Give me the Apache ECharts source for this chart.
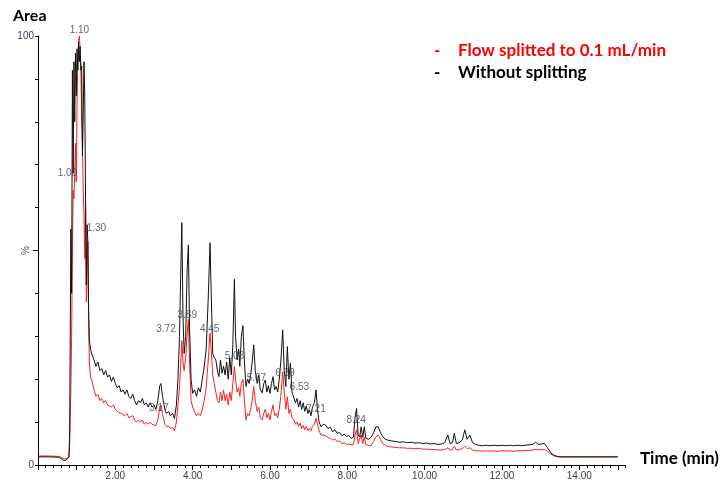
<!DOCTYPE html>
<html><head><meta charset="utf-8">
<script src="https://cdn.jsdelivr.net/npm/echarts@6/dist/echarts.min.js"></script>
<style>html,body{margin:0;padding:0;background:#fff}#c{width:724px;height:483px}</style>
</head><body><div id="c"></div>
<script>
// Retention time (min)
const timeMin = [
  0, 0.3, 0.55, 0.6, 0.65, 0.72, 0.76, 0.8,
  0.82, 0.85, 0.87, 0.89, 0.91, 0.93, 0.95, 0.97, 0.99, 1.01, 1.03, 1.05, 1.07, 1.09, 1.11, 1.13, 1.15, 1.17, 1.19, 1.21, 1.23, 1.25, 1.27, 1.29, 1.31, 1.33, 1.36,
  1.40, 1.45, 1.50, 1.55, 1.60, 1.65, 1.70, 1.75, 1.80, 1.85, 1.90, 1.95, 2.00, 2.05, 2.10, 2.15, 2.20, 2.25, 2.30, 2.35, 2.40, 2.45, 2.50, 2.55, 2.60, 2.65, 2.70, 2.75, 2.80, 2.85, 2.90, 2.95, 3.00, 3.05, 3.10,
  3.15, 3.18, 3.22, 3.28, 3.32, 3.38, 3.42, 3.48, 3.53, 3.58,
  3.62, 3.66, 3.70, 3.72, 3.75, 3.78, 3.82, 3.86, 3.89, 3.92, 3.96, 4.00, 4.05, 4.10, 4.15, 4.20, 4.25, 4.30, 4.35, 4.40, 4.45,
  4.48, 4.52, 4.56, 4.60, 4.64, 4.68, 4.72, 4.76, 4.80, 4.84, 4.88, 4.92, 4.96, 5.00, 5.04, 5.08, 5.11, 5.15, 5.19, 5.22, 5.26, 5.30,
  5.34, 5.38, 5.42, 5.46, 5.50, 5.54, 5.58, 5.62, 5.67, 5.71, 5.75, 5.80, 5.84, 5.88, 5.92, 5.96, 6.00, 6.04, 6.08, 6.12, 6.16, 6.20, 6.24, 6.28, 6.33,
  6.37, 6.41, 6.45, 6.49, 6.53, 6.57, 6.62, 6.66, 6.70, 6.74, 6.78, 6.82, 6.86, 6.90, 6.94, 6.98, 7.02, 7.06, 7.10, 7.15, 7.19, 7.23, 7.27, 7.32,
  7.38, 7.44, 7.50, 7.56, 7.62, 7.68, 7.74, 7.80, 7.86, 7.92, 7.98, 8.04, 8.10, 8.16, 8.20, 8.24, 8.28, 8.32, 8.36, 8.40, 8.44, 8.48, 8.55, 8.62, 8.68, 8.74, 8.80, 8.86, 8.92, 8.98, 9.05,
  9.15, 9.25, 9.35, 9.45, 9.55, 9.65, 9.75, 9.85, 9.95, 10.05, 10.15, 10.25, 10.35, 10.45,
  10.52, 10.60, 10.66, 10.72, 10.77, 10.82, 10.90, 10.98, 11.04, 11.10, 11.17, 11.24, 11.32,
  11.40, 11.50, 11.60, 11.70, 11.80, 11.90, 12.00, 12.10, 12.20, 12.30, 12.40, 12.50, 12.60, 12.70, 12.80,
  12.87, 12.95, 13.02, 13.10, 13.18, 13.27, 13.36, 13.48, 14.00, 15.00
];
// "Without splitting" (black), % of max
const withoutSplitting = [
  1.9, 1.9, 1.8, 1.4, 1.1, 1.1, 1.4, 1.8,
  8, 55, 40, 92, 68, 94, 80, 96, 86, 97, 92, 98.5, 94, 97.5, 92, 93, 72, 82, 94, 86, 62, 42, 56, 52, 36, 29, 27,
  25.6, 24.5, 23, 24, 22, 22.5, 21, 22, 20.5, 21, 19.5, 20.5, 19, 18, 18.5, 17, 17.5, 16.5, 17.5, 16, 15.5, 16.5, 15, 14, 15, 14.5, 15.5, 14, 14.5, 13.5, 14.5, 13.5, 14, 13, 15,
  18.5, 19, 16, 13, 12, 12.5, 11.5, 12, 10.8, 14,
  20, 30, 48, 56.5, 35, 26, 30, 46, 51.3, 32, 20, 16.7, 17.5, 16, 18, 17, 20, 23, 27, 38, 51.8,
  40, 26, 25, 24.5, 22, 20.6, 24.5, 21.4, 23, 21, 24, 20, 25, 21, 28, 43.3, 30, 24.5, 27, 23, 30, 32.5,
  24, 18.3, 20, 19, 21, 24, 28, 22, 19, 21, 17.5, 16.8, 19, 19.8, 17, 18.5, 16.7, 19, 20.6, 17.5, 18.3, 17, 20, 24, 31.5,
  22, 18.3, 27.6, 20, 23.7, 17, 16.8, 14.5, 15.5, 13.5, 15, 13, 14.5, 12.5, 13.8, 12, 12.8, 11.5, 13.5, 14.5, 17.5, 13, 10, 8.9,
  9.5, 9.3, 8.5, 8.8, 7.8, 8.2, 7.4, 7.6, 6.8, 7.2, 6.6, 6.9, 6.2, 6.5, 11, 13.2, 7, 6.5, 8.9, 6.5, 8.9, 6.2, 6, 6.5, 7.5, 8.9, 8.9, 7.5, 6.6, 6, 5.8,
  5.6, 5.5, 5.3, 5.4, 5.2, 5.3, 5.1, 5.2, 5.0, 5.1, 4.9, 5.0, 4.8, 4.9,
  5.2, 7, 5.0, 5.2, 7.4, 5.0, 5.2, 6.0, 8.2, 6.0, 7.0, 5.2, 4.8,
  4.6, 4.5, 4.6, 4.5, 4.6, 4.5, 4.6, 4.5, 4.6, 4.5, 4.6, 4.5, 4.6, 4.7, 4.8,
  5.3, 4.8, 4.9, 5.0, 4.0, 2.8, 2.2, 1.9, 1.9, 1.9
];
// "Flow splitted to 0.1 mL/min" (red), % of max
const flowSplitted = [
  2.1, 2.1, 2.0, 1.8, 1.5, 1.4, 1.6, 1.9,
  5, 18, 30, 50, 64, 62, 68, 75, 66, 84, 94, 99, 100, 97, 92, 80, 74, 64, 58, 48, 62, 38, 46, 52, 32, 24, 20.5,
  19.5, 17.5, 16, 16.5, 15, 15.5, 14.5, 15, 14, 14, 13.5, 14, 13, 12.5, 12.5, 12, 12, 11.5, 12, 11, 11, 11.5, 10.5, 10, 10.5, 10, 10.5, 9.5, 10, 9.5, 10, 9.5, 9.8, 9.2, 10.5,
  13.5, 14, 12, 9.5, 9, 9, 8.5, 8.8, 8, 10,
  14, 18, 25, 29, 24, 22, 25, 31, 34, 24, 15, 13.5, 12.5, 11.5, 12, 11.5, 13, 15, 18, 24, 30.7,
  27, 21, 19, 17, 15, 14.5, 17, 15, 17.5, 15, 16.5, 14, 17, 15, 19, 23, 20, 17, 18, 16, 19, 20,
  15, 10.5, 12, 11.5, 13, 15, 18.3, 15, 12.5, 13.5, 11, 10.5, 12, 13, 11, 12, 10.5, 12.5, 14, 11.5, 12, 11, 13, 16, 21.7,
  17, 13, 15.9, 12, 13, 11, 10.5, 9.5, 10, 9, 9.8, 8.5, 9.2, 8.2, 9, 8, 8.5, 8, 9, 9.5, 10.9, 9.5, 8, 7,
  7, 6.8, 6.4, 6.2, 5.8, 6, 5.5, 5.6, 5, 5.2, 4.8, 4.9, 4.7, 4.8, 7, 8.2, 5, 4.8, 7, 5, 6.5, 4.8, 4.5, 4.6, 5.5, 6.5, 7, 6, 5, 4.6, 4.3,
  4.2, 4.1, 4.0, 4.0, 3.9, 3.9, 3.8, 3.9, 3.7, 3.7, 3.6, 3.6, 3.5, 3.5,
  3.6, 4.0, 3.5, 3.6, 4.4, 3.5, 3.6, 3.9, 4.4, 3.8, 4.0, 3.5, 3.3,
  3.3, 3.2, 3.3, 3.2, 3.3, 3.2, 3.3, 3.3, 3.3, 3.2, 3.3, 3.3, 3.4, 3.4, 3.5,
  3.7, 3.5, 3.6, 3.6, 3.2, 2.5, 2.1, 1.9, 1.9, 1.9
];
const seriesNames = ['Flow splitted to 0.1 mL/min', 'Without splitting'];
// Peak annotations: text, and where the text sits (time, %)
const peakLabelTexts  = ['1.10', '1.00', '1.30', '3.17', '3.72', '3.89', '4.45', '5.08', '5.67', '6.39', '6.53', '7.21', '8.24'];
const peakLabelTimes  = [1.07, 0.76, 1.51, 3.13, 3.31, 3.86, 4.44, 5.08, 5.65, 6.39, 6.76, 7.19, 8.23];
const peakLabelLevels = [101.4, 68.1, 55.2, 13.3, 31.7, 35.0, 31.7, 25.4, 20.3, 21.4, 18.2, 13.1, 10.5];
const xLabelValues = [2, 4, 6, 8, 10, 12, 14];
const yLabelValues = [0, 100];

const n = Math.min(timeMin.length, withoutSplitting.length, flowSplitted.length);
const blackData = [], redData = [];
for (let i = 0; i < n; i++) {
  blackData.push([timeMin[i], withoutSplitting[i]]);
  redData.push([timeMin[i], flowSplitted[i]]);
}
const labelData = peakLabelTimes.map((t, i) => [t, peakLabelLevels[i]]);

const TXT = '#3b3b52';
const AX_MAX = 15.2;
const gridBox = { left: 38, right: 724 - (38 + AX_MAX * 38.66), top: 36, bottom: 18 };
const intTicks = [];
for (let v = 0; v <= 15; v++) intTicks.push(v);

const chart = echarts.init(document.getElementById('c'), null, { renderer: 'canvas' });
chart.setOption({
  animation: false,
  backgroundColor: '#fff',
  grid: [
    Object.assign({ containLabel: false, outerBoundsMode: 'none' }, gridBox),
    Object.assign({ containLabel: false, outerBoundsMode: 'none' }, gridBox)
  ],
  xAxis: [
    {
      gridIndex: 0, type: 'value', min: 0, max: AX_MAX, interval: 0.2,
      axisLine: { show: true, onZero: false, lineStyle: { color: '#000', width: 1 } },
      axisTick: { show: true, length: 3, lineStyle: { color: '#000' } },
      axisLabel: { show: false },
      splitLine: { show: false }
    },
    {
      gridIndex: 1, type: 'value', min: 0, max: AX_MAX, interval: 1,
      axisLine: { show: false, onZero: false },
      axisTick: { show: true, length: 5, lineStyle: { color: '#000' }, customValues: intTicks },
      axisLabel: {
        show: true, color: TXT, fontSize: 10, fontFamily: 'Liberation Sans', margin: 6,
        formatter: v => (xLabelValues.indexOf(Math.round(v * 100) / 100) >= 0 ? v.toFixed(2) : '')
      },
      splitLine: { show: false }
    }
  ],
  yAxis: [
    {
      gridIndex: 0, type: 'value', min: 0, max: 100, interval: 10,
      axisLine: { show: true, onZero: false, lineStyle: { color: '#000', width: 1 } },
      axisTick: { show: true, length: 3, lineStyle: { color: '#000' } },
      axisLabel: {
        color: TXT, fontSize: 10, fontFamily: 'Liberation Sans', margin: 4,
        formatter: v => (yLabelValues.indexOf(v) >= 0 ? String(v) : '')
      },
      splitLine: { show: false },
      name: '%', nameLocation: 'middle', nameGap: 7, nameRotate: 90, nameMoveOverlap: false,
      nameTextStyle: { color: '#555', fontSize: 10, fontFamily: 'Liberation Sans' }
    },
    {
      gridIndex: 1, type: 'value', min: 0, max: 100, interval: 50,
      axisLine: { show: false, onZero: false },
      axisTick: { show: true, length: 5, lineStyle: { color: '#000' }, customValues: [50] },
      axisLabel: { show: false },
      splitLine: { show: false }
    }
  ],
  series: [
    {
      name: seriesNames[0], type: 'line', xAxisIndex: 0, yAxisIndex: 0,
      data: redData, showSymbol: false, symbol: 'none',
      lineStyle: { color: '#ff1f1f', width: 1 }, z: 2, silent: true
    },
    {
      name: seriesNames[1], type: 'line', xAxisIndex: 0, yAxisIndex: 0,
      data: blackData, showSymbol: false, symbol: 'none',
      lineStyle: { color: '#111', width: 1 }, z: 3, silent: true
    },
    {
      name: 'peaks', type: 'scatter', xAxisIndex: 0, yAxisIndex: 0,
      data: labelData, symbolSize: 1, itemStyle: { color: 'rgba(0,0,0,0)' },
      clip: false, silent: true, z: 5,
      label: {
        show: true, position: 'inside', color: TXT, fontSize: 10, fontFamily: 'Liberation Sans',
        formatter: p => peakLabelTexts[p.dataIndex]
      }
    }
  ],
  graphic: [
    { type: 'text', left: 13, top: 8, style: { text: 'Area', font: 'bold 16px Lato', fill: '#000' } },
    { type: 'text', left: 640, top: 450, style: { text: 'Time (min)', font: 'bold 17px Lato', fill: '#000' } },
    { type: 'text', left: 434, top: 42, style: { text: '-', font: 'bold 17px Lato', fill: '#ff0000' } },
    { type: 'text', left: 458, top: 42, style: { text: seriesNames[0], font: 'bold 17px Lato', fill: '#ff0000' } },
    { type: 'text', left: 434, top: 64, style: { text: '-', font: 'bold 17px Lato', fill: '#000' } },
    { type: 'text', left: 458, top: 64, style: { text: seriesNames[1], font: 'bold 17px Lato', fill: '#000' } }
  ]
});
</script>
</body></html>
